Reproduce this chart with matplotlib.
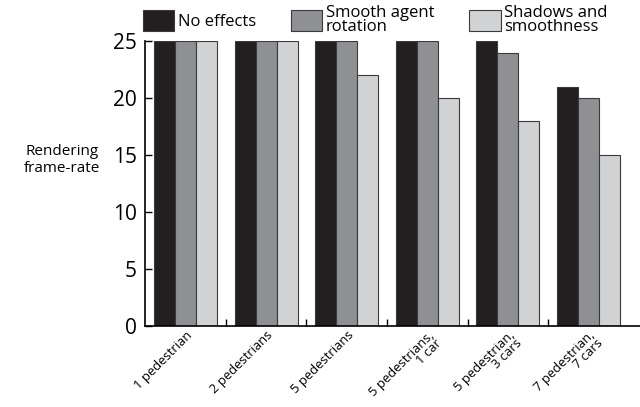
import matplotlib
matplotlib.use("Agg")
import matplotlib.pyplot as plt
from matplotlib.patches import Patch
import numpy as np

plt.rcParams['font.family'] = ['Open Sans', 'DejaVu Sans']

categories = ["1 pedestrian", "2 pedestrians", "5 pedestrians",
              "5 pedestrians,\n1 car", "5 pedestrian,\n3 cars", "7 pedestrian,\n7 cars"]
no_effects = [25, 25, 25, 25, 25, 21]
smooth_rotation = [25, 25, 25, 25, 24, 20]
shadows_smooth = [25, 25, 22, 20, 18, 15]
series_names = ["No effects", "Smooth agent\nrotation", "Shadows and\nsmoothness"]
colors = ["#231f20", "#8f9094", "#d1d2d4"]

fig = plt.figure(figsize=(6.4, 4.07), dpi=100)
ax = fig.add_axes([0.227, 0.199, 0.773, 0.700])

x = np.arange(len(categories))
w = 0.26
for i, (vals, c) in enumerate(zip([no_effects, smooth_rotation, shadows_smooth], colors)):
    ax.bar(x + (i - 1) * w, vals, width=w, color=c, edgecolor="#3a3a3a", linewidth=0.8,
           label=series_names[i])

ax.set_xlim(-0.5, len(categories) - 0.5 + 0.14)
ax.set_ylim(0, 25)
ax.set_yticks([0, 5, 10, 15, 20, 25])
ax.tick_params(axis='y', direction='in', length=5, width=1, labelsize=15, pad=6)
ax.set_xticks(x)
ax.set_xticklabels(categories, rotation=45, ha='right', rotation_mode='anchor',
                   fontsize=9.4, linespacing=0.82)
ax.tick_params(axis='x', length=0, pad=2)
ax.set_xticks(x[:-1] + 0.5, minor=True)
ax.tick_params(axis='x', which='minor', direction='in', length=5, width=1)
for s in ['top', 'right']:
    ax.spines[s].set_visible(False)
for s in ['left', 'bottom']:
    ax.spines[s].set_linewidth(1.2)

fig.text(0.097, 0.607, "Rendering\nframe-rate", ha='center', va='center', fontsize=11,
         linespacing=1.1)

handles = [Patch(facecolor=c, edgecolor="#3a3a3a", linewidth=0.8) for c in colors]
leg = fig.legend(handles, series_names, loc='upper left', bbox_to_anchor=(0.215, 1.0),
                 ncol=3, frameon=False, fontsize=12, handlelength=1.9, handleheight=1.55,
                 handletextpad=0.2, columnspacing=2.1, borderaxespad=0, borderpad=0.3,
                 labelspacing=0)
for t in leg.get_texts():
    t.set_linespacing(0.8)

fig.savefig("out.png", dpi=100)
